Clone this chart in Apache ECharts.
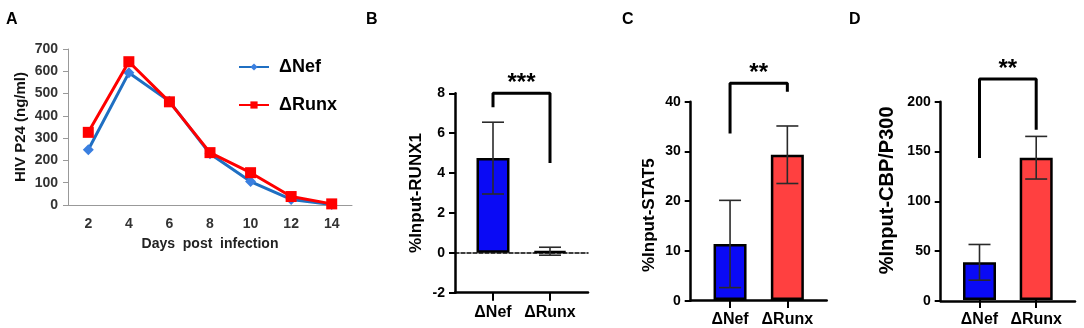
<!DOCTYPE html>
<html>
<head>
<meta charset="utf-8">
<script src="https://cdn.jsdelivr.net/npm/echarts@6/dist/echarts.min.js"></script>
<style>
  html, body { margin: 0; padding: 0; background: #fff; }
  #main { width: 1084px; height: 328px; }
</style>
</head>
<body>
<div id="main"></div>
<script>
// panel A: p24 time course
var days = ['2', '4', '6', '8', '10', '12', '14'];
var nefP24 = [248, 593, 465, 230, 105, 25, 2];
var runxP24 = [326, 643, 463, 235, 145, 38, 5];

// panels B-D: ChIP bars (mean, SD)
var groups = ['ΔNef', 'ΔRunx'];
var runx1Mean = [4.75, 0.08];
var runx1Err = [1.8, 0.2];
var stat5Mean = [11.3, 29.3];
var stat5Err = [8.8, 5.8];
var cbpMean = [38, 143.5];
var cbpErr = [18, 21.5];

// significance brackets: [left leg end, top, right leg end]
var runx1Bracket = [7.3, 8, 4.5];
var stat5Bracket = [33.6, 43.7, 42];
var cbpBracket = [143.3, 222.9, 171.7];

var FONT = 'Liberation Sans, Arial, sans-serif';
var chart = echarts.init(document.getElementById('main'));

var grids = [], xAxes = [], yAxes = [], series = [], stars = [];

// panel A
grids.push({ left: 68, top: 49, width: 284, height: 156 });
xAxes.push({
  type: 'category', gridIndex: 0, data: days, boundaryGap: true,
  axisLine: { lineStyle: { color: '#999', width: 1 } },
  axisTick: { length: 5, lineStyle: { color: '#999' } },
  axisLabel: { color: '#333', fontSize: 14, fontWeight: 'bold', fontFamily: FONT, margin: 12 },
  name: 'Days  post  infection', nameLocation: 'middle', nameGap: 32,
  nameTextStyle: { color: '#222', fontSize: 14, fontWeight: 'bold', fontFamily: FONT }
});
yAxes.push({
  type: 'value', gridIndex: 0, min: 0, max: 700, interval: 100,
  axisLine: { show: true, lineStyle: { color: '#999', width: 1 } },
  axisTick: { show: true, length: 5, lineStyle: { color: '#999' } },
  splitLine: { show: false },
  axisLabel: { color: '#333', fontSize: 14, fontWeight: 'bold', fontFamily: FONT, margin: 10 },
  name: 'HIV P24 (ng/ml)', nameLocation: 'middle', nameGap: 40,
  nameTextStyle: { color: '#111', fontSize: 15, fontWeight: 'bold', fontFamily: FONT }
});
series.push({
  name: 'ΔNef', type: 'line', xAxisIndex: 0, yAxisIndex: 0, data: nefP24,
  symbol: 'diamond', symbolSize: 11,
  lineStyle: { color: '#1f6fc2', width: 3 }, itemStyle: { color: '#3a7fe0' }, z: 2
});
series.push({
  name: 'ΔRunx', type: 'line', xAxisIndex: 0, yAxisIndex: 0, data: runxP24,
  symbol: 'rect', symbolSize: 11,
  lineStyle: { color: '#ff0000', width: 3 }, itemStyle: { color: '#ff0000' }, z: 3
});

// bar panels: outer grid carries the axis frame, inner grid the bars
function barPanel(p) {
  var go = grids.length;
  grids.push({ left: p.left, top: p.top, width: p.width, height: p.height });
  grids.push({ left: p.left + (p.width - p.band * 2) / 2, top: p.top, width: p.band * 2, height: p.height });
  var gi = go + 1;

  xAxes.push({
    type: 'value', gridIndex: go, min: 0, max: 1,
    axisLine: { onZero: false, lineStyle: { color: '#000', width: 2.5 } },
    axisTick: { show: false }, axisLabel: { show: false }, splitLine: { show: false }
  });
  if (p.zeroLine) {
    xAxes.push({
      type: 'value', gridIndex: go, min: 0, max: 1, position: 'bottom',
      axisLine: { onZero: true, lineStyle: { color: '#000', width: 1.5, type: [4, 2] } },
      axisTick: { show: false }, axisLabel: { show: false }, splitLine: { show: false }
    });
  }
  var xi = xAxes.length;
  xAxes.push({
    type: 'category', gridIndex: gi, data: groups,
    axisLine: { show: true, onZero: false, lineStyle: { color: 'rgba(0,0,0,0)' } },
    axisTick: { show: true, interval: 0, alignWithLabel: true, length: 8, lineStyle: { color: '#000', width: 2 } },
    axisLabel: { interval: 0, color: '#000', fontSize: 16, fontWeight: 'bold', fontFamily: FONT, margin: 12 }
  });

  yAxes.push({
    type: 'value', gridIndex: go, min: p.min, max: p.max, interval: p.interval,
    axisLine: { show: true, lineStyle: { color: '#000', width: 2.5 } },
    axisTick: { show: true, length: 6, lineStyle: { color: '#000', width: 2 } },
    splitLine: { show: false },
    axisLabel: { color: '#000', fontSize: 14, fontWeight: 'bold', fontFamily: FONT, margin: 10 },
    name: p.title, nameLocation: 'middle', nameGap: p.nameGap,
    nameTextStyle: { color: '#000', fontSize: p.titleSize, fontWeight: 'bold', fontFamily: FONT, padding: p.namePad || 0 }
  });
  var yi = yAxes.length;
  yAxes.push({ type: 'value', gridIndex: gi, min: p.min, max: p.max, interval: p.interval, show: false });

  series.push({
    type: 'bar', xAxisIndex: xi, yAxisIndex: yi, barWidth: 33, z: 2,
    data: p.mean.map(function (v, i) {
      return { value: v, itemStyle: { color: i === 0 ? '#0a0af5' : '#ff4040', borderColor: '#000', borderWidth: 2.5 } };
    })
  });
  series.push({
    type: 'custom', xAxisIndex: xi, yAxisIndex: yi, z: 3,
    data: p.mean.map(function (v, i) { return [i, v - p.err[i], v + p.err[i]]; }),
    renderItem: function (params, api) {
      var hi = api.coord([api.value(0), api.value(2)]);
      var lo = api.coord([api.value(0), api.value(1)]);
      var w = 11;
      var st = { stroke: '#2a2a2a', lineWidth: 1.6 };
      return {
        type: 'group',
        children: [
          { type: 'line', shape: { x1: hi[0], y1: hi[1], x2: lo[0], y2: lo[1] }, style: st },
          { type: 'line', shape: { x1: hi[0] - w, y1: hi[1], x2: hi[0] + w, y2: hi[1] }, style: st },
          { type: 'line', shape: { x1: lo[0] - w, y1: lo[1], x2: lo[0] + w, y2: lo[1] }, style: st }
        ]
      };
    }
  });
  var b = p.bracket;
  series.push({
    type: 'line', xAxisIndex: xi, yAxisIndex: yi, clip: false, z: 4,
    data: [[0, b[0]], [0, b[1]], [1, b[1]], [1, b[2]]],
    symbol: 'none', lineStyle: { color: '#000', width: 3 }, silent: true
  });
  stars.push({ xi: xi, yi: yi, top: b[1], text: p.stars });
}

barPanel({
  left: 455, top: 93.3, width: 133, height: 199.4, band: 57,
  min: -2, max: 8, interval: 2, mean: runx1Mean, err: runx1Err,
  bracket: runx1Bracket, stars: '***', zeroLine: true,
  title: '%Input-RUNX1', titleSize: 17, nameGap: 30
});
barPanel({
  left: 690.7, top: 101.7, width: 136, height: 199, band: 57.3,
  min: 0, max: 40, interval: 10, mean: stat5Mean, err: stat5Err,
  bracket: stat5Bracket, stars: '**',
  title: '%Input-STAT5', titleSize: 17, nameGap: 33, namePad: [0, 28, 0, 0]
});
barPanel({
  left: 940.7, top: 101.7, width: 134.3, height: 199.3, band: 56.7,
  min: 0, max: 200, interval: 50, mean: cbpMean, err: cbpErr,
  bracket: cbpBracket, stars: '**',
  title: '%Input-CBP/P300', titleSize: 20, nameGap: 43, namePad: [0, 0, 0, 22]
});

var letterStyle = { color: '#000', fontSize: 16, fontWeight: 'bold', fontFamily: FONT };
chart.setOption({
  animation: false,
  backgroundColor: '#fff',
  title: [
    { text: 'A', left: 6, top: 12, textStyle: letterStyle, padding: 0 },
    { text: 'B', left: 366, top: 12, textStyle: letterStyle, padding: 0 },
    { text: 'C', left: 622, top: 12, textStyle: letterStyle, padding: 0 },
    { text: 'D', left: 849, top: 12, textStyle: letterStyle, padding: 0 }
  ],
  legend: {
    data: ['ΔNef', 'ΔRunx'], orient: 'vertical', left: 233, top: 53,
    itemWidth: 30, itemHeight: 9, itemGap: 20,
    textStyle: { color: '#000', fontSize: 18, fontWeight: 'bold', fontFamily: FONT, padding: [0, 0, 0, 5] }
  },
  grid: grids,
  xAxis: xAxes,
  yAxis: yAxes,
  series: series
});

// place the significance stars above each bracket
chart.setOption({
  graphic: stars.map(function (s) {
    var a = chart.convertToPixel({ xAxisIndex: s.xi, yAxisIndex: s.yi }, [0, s.top]);
    var c = chart.convertToPixel({ xAxisIndex: s.xi, yAxisIndex: s.yi }, [1, s.top]);
    return {
      type: 'text', x: (a[0] + c[0]) / 2, y: a[1] + 2,
      style: { text: s.text, fill: '#000', font: 'bold 24px ' + FONT, textAlign: 'center', textVerticalAlign: 'bottom' }
    };
  })
});
</script>
</body>
</html>
